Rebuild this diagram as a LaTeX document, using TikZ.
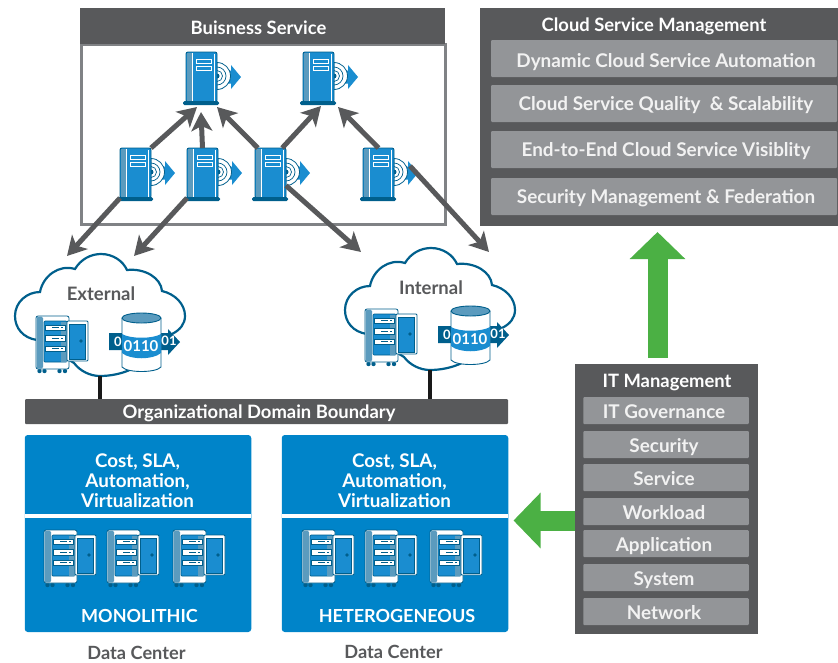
\documentclass[tikz,border=0pt]{standalone}
\usepackage{fontspec}
\setmainfont{Lato}
\usetikzlibrary{arrows.meta}
\definecolor{panelgray}{HTML}{58595B}
\definecolor{bargray}{HTML}{939598}
\definecolor{framegray}{HTML}{808285}
\definecolor{boxblue}{HTML}{0084C9}
\definecolor{iconblue}{HTML}{1A8DD0}
\definecolor{iconmid}{HTML}{5B9BBE}
\definecolor{icondark}{HTML}{005F8C}
\definecolor{arrowgreen}{HTML}{4BB044}

% tower with disc and arrow
\newcommand{\servericon}[3]{
\begin{scope}[shift={(#2,#3)}]
	\fill[iconblue] (40,18.5) -- (45,18.5) -- (45,13) -- (55,25) -- (45,37) -- (45,31.5) -- (40,31.5) -- cycle;
	\draw[icondark,fill=white,line width=.8pt] (31,10.5) arc (-90:90:13.5) -- cycle;
	\draw[icondark,line width=.7pt] (31,15) arc (-90:90:9) (31,18.5) arc (-90:90:5.5);
	\fill[icondark] (31,24) circle (2.5);
	\node[tower] (#1) at (15.5,25) {};
	\fill[iconmid] (1,1) rectangle (6,49);
	\draw[white,line width=.9pt] (6.5,1) -- (6.5,49) (28.8,2) -- (28.8,49);
	\draw[white,fill=iconblue,line width=.8pt] (10,7) rectangle (25,11) (10,14) rectangle (25,18);
	\fill[icondark,rounded corners=1.5pt] (-3,49) rectangle (33,53);
\end{scope}
}
% rack with open door
\newcommand{\rackicon}[2]{
\begin{scope}[shift={(#1,#2)}]
	\foreach \wx in {3.5,8.5,23.5,29} \fill[icondark] (\wx,55) circle (2.2);
	\draw[icondark,fill=white,rounded corners=2pt,line width=.8pt] (0,0) rectangle (33,53);
	\fill[iconmid,rounded corners=1.5pt] (.5,.5) rectangle (7,52.5);
	\draw[icondark,fill=iconblue,rounded corners=1pt,line width=.7pt] (8,5) rectangle (31,46);
	\fill[iconmid] (25,5.5) rectangle (30.5,45.5);
	\foreach \sy in {9,19.5,30} {
		\draw[icondark,fill=white,line width=.5pt] (9,\sy) rectangle (29,\sy+5.5);
		\draw[icondark,line width=.9pt] (16,\sy+2.7) -- (23,\sy+2.7) (25,\sy+2.7) -- (27,\sy+2.7);
	}
	\draw[icondark,fill=white,rounded corners=1pt,line width=.8pt] (31,5) rectangle (52,45);
	\draw[icondark,fill=iconblue,line width=.5pt] (33.5,8) rectangle (49,43);
	\fill[icondark] (45,25) circle (1.8);
\end{scope}
}
% database with data arrow
\newcommand{\dbicon}[2]{
\begin{scope}[shift={(#1,#2)}]
	\fill[icondark] (-13,20) -- (46,20) -- (46,16) -- (58,29) -- (46,42) -- (46,37) -- (-13,37) -- cycle;
	\draw[icondark,fill=white,line width=.9pt] (0,5) -- (0,54) .. controls (5,60) and (34,60) .. (39,54) -- (39,5);
	\draw[icondark,fill=iconmid,line width=.9pt] (19.5,5) ellipse (19.5 and 5);
	\fill[iconblue] (0,21) .. controls (8,26) and (31,26) .. (39,21) -- (39,40) .. controls (31,47) and (8,47) .. (0,40) -- cycle;
	\node[digit,font=\bfseries\fontsize{15}{15}\selectfont] (bits) at (19,33) {0110};
	\node[digit] (bitl) at (-4,29) {0};
	\node[digit] (bitr) at (47,28) {01};
\end{scope}
}
% cloud outline with its label
\newcommand{\cloudicon}[4]{
\begin{scope}[shift={(#2,#3)}]
	\draw[icondark,fill=white,line width=2.2pt] (22,86) .. controls (8,84) and (0,74) .. (0,62)
		.. controls (0,48) and (12,38) .. (25,38) .. controls (28,22) and (44,10) .. (60,15)
		.. controls (66,5) and (76,0) .. (86,0) .. controls (98,0) and (108,7) .. (112,16)
		.. controls (130,14) and (146,24) .. (147,37) .. controls (160,40) and (170,50) .. (170,62)
		.. controls (170,70) and (165,76) .. (157,80) -- (125,109)
		.. controls (118,117) and (100,122) .. (85,122) .. controls (75,122) and (65,117) .. (59,109) -- cycle;
	\node[blank,minimum width=170pt,minimum height=122pt] (#1) at (85,61) {};
	\node[cloudlabel] (#1label) at (86,40) {#4};
\end{scope}
}

\begin{document}
\begin{tikzpicture}[x=1pt,y=-1pt]
\tikzstyle{dep}= [-{Stealth[length=19pt,width=21pt,inset=5pt]},panelgray,line width=5pt]
\tikzstyle{flow}= [-{Triangle[length=27pt,width=54pt]},arrowgreen,line width=20pt]
\tikzstyle{link}= [line width=3.5pt,black!90]
\tikzstyle{blank}= [rectangle,inner sep=0pt,outer sep=0pt]
\tikzstyle{tower}= [blank,draw=icondark,fill=iconblue,rounded corners=2pt,line width=.9pt,minimum width=31pt,minimum height=50pt]
\tikzstyle{digit}= [blank,text=white,font=\bfseries\fontsize{13}{13}\selectfont]
\tikzstyle{cloudlabel}= [blank,text=panelgray,font=\bfseries\fontsize{18.5}{18.5}\selectfont]
\tikzstyle{bar}= [blank,fill=bargray,text=white!95!black,rounded corners=1pt,text depth=0pt,font=\bfseries\fontsize{18.9}{18.9}\selectfont]
\tikzstyle{bigbar}= [bar,minimum width=346pt,minimum height=37pt,text height=13.6pt,execute at begin node=\hspace*{4pt}]
\tikzstyle{itbar}= [bar,minimum width=165.5pt,minimum height=27pt,text height=15.6pt,execute at end node=\hspace*{4pt}]
\tikzstyle{panel}= [blank,fill=panelgray]
\tikzstyle{head}= [blank,text=white,text height=13pt,text depth=0pt,font=\bfseries\fontsize{18.4}{18.4}\selectfont]
\tikzstyle{dcbox}= [blank,fill=boxblue,rounded corners=3pt,minimum width=226.5pt,minimum height=197pt]
\tikzstyle{dctext}= [blank,text=white,align=center,font=\bfseries\fontsize{18.8}{20}\selectfont]
\tikzstyle{dcname}= [blank,text=white,font=\bfseries\fontsize{18}{18}\selectfont]
\tikzstyle{dclabel}= [blank,text=panelgray,font=\bfseries\fontsize{18.2}{18.2}\selectfont]
\useasboundingbox (0,0) rectangle (838,662);

% business service
\draw[framegray,line width=3pt] (81,44) rectangle (445,224);
\path (262.5,26) node[panel,minimum width=365pt,minimum height=36pt] (bsbar) {};
\path (258.5,27.5) node[head] (bstitle) {Buisness Service};
\servericon{top1}{186}{52}
\servericon{top2}{303}{52}
\servericon{low1}{120}{148}
\servericon{low2}{187}{148}
\servericon{low3}{255}{148}
\servericon{low4}{363}{148}

% clouds
\cloudicon{ext}{15}{254}{External}
\rackicon{36}{316}
\dbicon{122}{313}
\cloudicon{int}{345}{248}{Internal}
\rackicon{365}{309}
\dbicon{451}{306}

\path
	(197,107) coordinate (tipa)
	(201,112) coordinate (tipb)
	(217,107) coordinate (tipc)
	(321,106) coordinate (tipd)
	(338,107) coordinate (tipe)
	(67,256) coordinate (tipf)
	(134,256) coordinate (tipg)
	(361,252) coordinate (tiph)
	(489,252) coordinate (tipi)
;
\draw[dep] (low1.north east) -- (tipa);
\draw[dep] (low2.north) -- (tipb);
\draw[dep] (low3.117) -- (tipc);
\draw[dep] (low3.65) -- (tipd);
\draw[dep] (low4.north) -- (tipe);
\draw[dep] (low1.south west) -- (tipf);
\draw[dep] (low2.south west) -- (tipg);
\draw[dep] (low3.-39) -- (tiph);
\draw[dep] ([xshift=16pt,yshift=7pt]low4.east) -- (tipi);

% boundary
\path (266.5,411.5) node[panel,rounded corners=1pt,minimum width=483pt,minimum height=25pt] (bound) {};
\path (259,412) node[head] (boundtxt) {Organizational Domain Boundary};
\draw[link] (ext.south) -- (ext.south |- bound.north);
\draw[link] (int.south) -- (int.south |- bound.north);

% data centers
\path
	(138,533.5) node[dcbox] (mono) {}
	(395,533.5) node[dcbox] (hetero) {}
;
\draw[white,line width=3.5pt] (mono.west |- 0,516) -- (mono.east |- 0,516);
\draw[white,line width=3.5pt] (hetero.west |- 0,516) -- (hetero.east |- 0,516);
\path
	(137.5,481) node[dctext] (monotxt) {Cost, SLA,\\Automation,\\Virtualization}
	(394.5,481) node[dctext] (heterotxt) {Cost, SLA,\\Automation,\\Virtualization}
	(139.5,616) node[dcname] (mononame) {MONOLITHIC}
	(397,616) node[dcname] (heteroname) {HETEROGENEOUS}
	(136.5,652.5) node[dclabel] (dcl) {Data Center}
	(393.5,651.5) node[dclabel] (dcr) {Data Center}
;
\foreach \rx in {44,107,173,302,365,430} {\rackicon{\rx}{530}}

% cloud service management
\path (659,117) node[panel,minimum width=358pt,minimum height=218pt] (csm) {};
\path
	(654,25) node[head] (csmtitle) {Cloud Service Management}
	(664,58.5) node[bigbar,text height=18pt] (dyn) {Dynamic Cloud Service Automation}
	(664,103.5) node[bigbar] (qual) {Cloud Service Quality \ \& Scalability}
	(664,149.5) node[bigbar] (vis) {End-to-End Cloud Service Visiblity}
	(664,196.5) node[bigbar] (sec) {Security Management \& Federation}
;

% it management
\path (666.5,499) node[panel,minimum width=183pt,minimum height=270pt] (itm) {};
\path
	(667,381) node[head] (ittitle) {IT Management}
	(666,410.5) node[itbar,execute at end node={}] (gov) {IT Governance}
	(666,444.5) node[itbar] (secu) {Security}
	(666,477.5) node[itbar] (serv) {Service}
	(666,511.5) node[itbar] (work) {Workload}
	(666,543.5) node[itbar] (app) {Application}
	(666,577.5) node[itbar] (sys) {System}
	(666,611.5) node[itbar] (net) {Network}
;

% green arrows
\path
	(657.5,358) coordinate (upfrom)
	(csm.south -| upfrom) ++(0,6) coordinate (upto)
	(itm.west |- 0,520.5) coordinate (leftfrom)
	(513.5,520.5) coordinate (leftto)
;
\draw[flow] (upfrom) -- (upto);
\draw[flow] (leftfrom) -- (leftto);
\end{tikzpicture}
\end{document}
